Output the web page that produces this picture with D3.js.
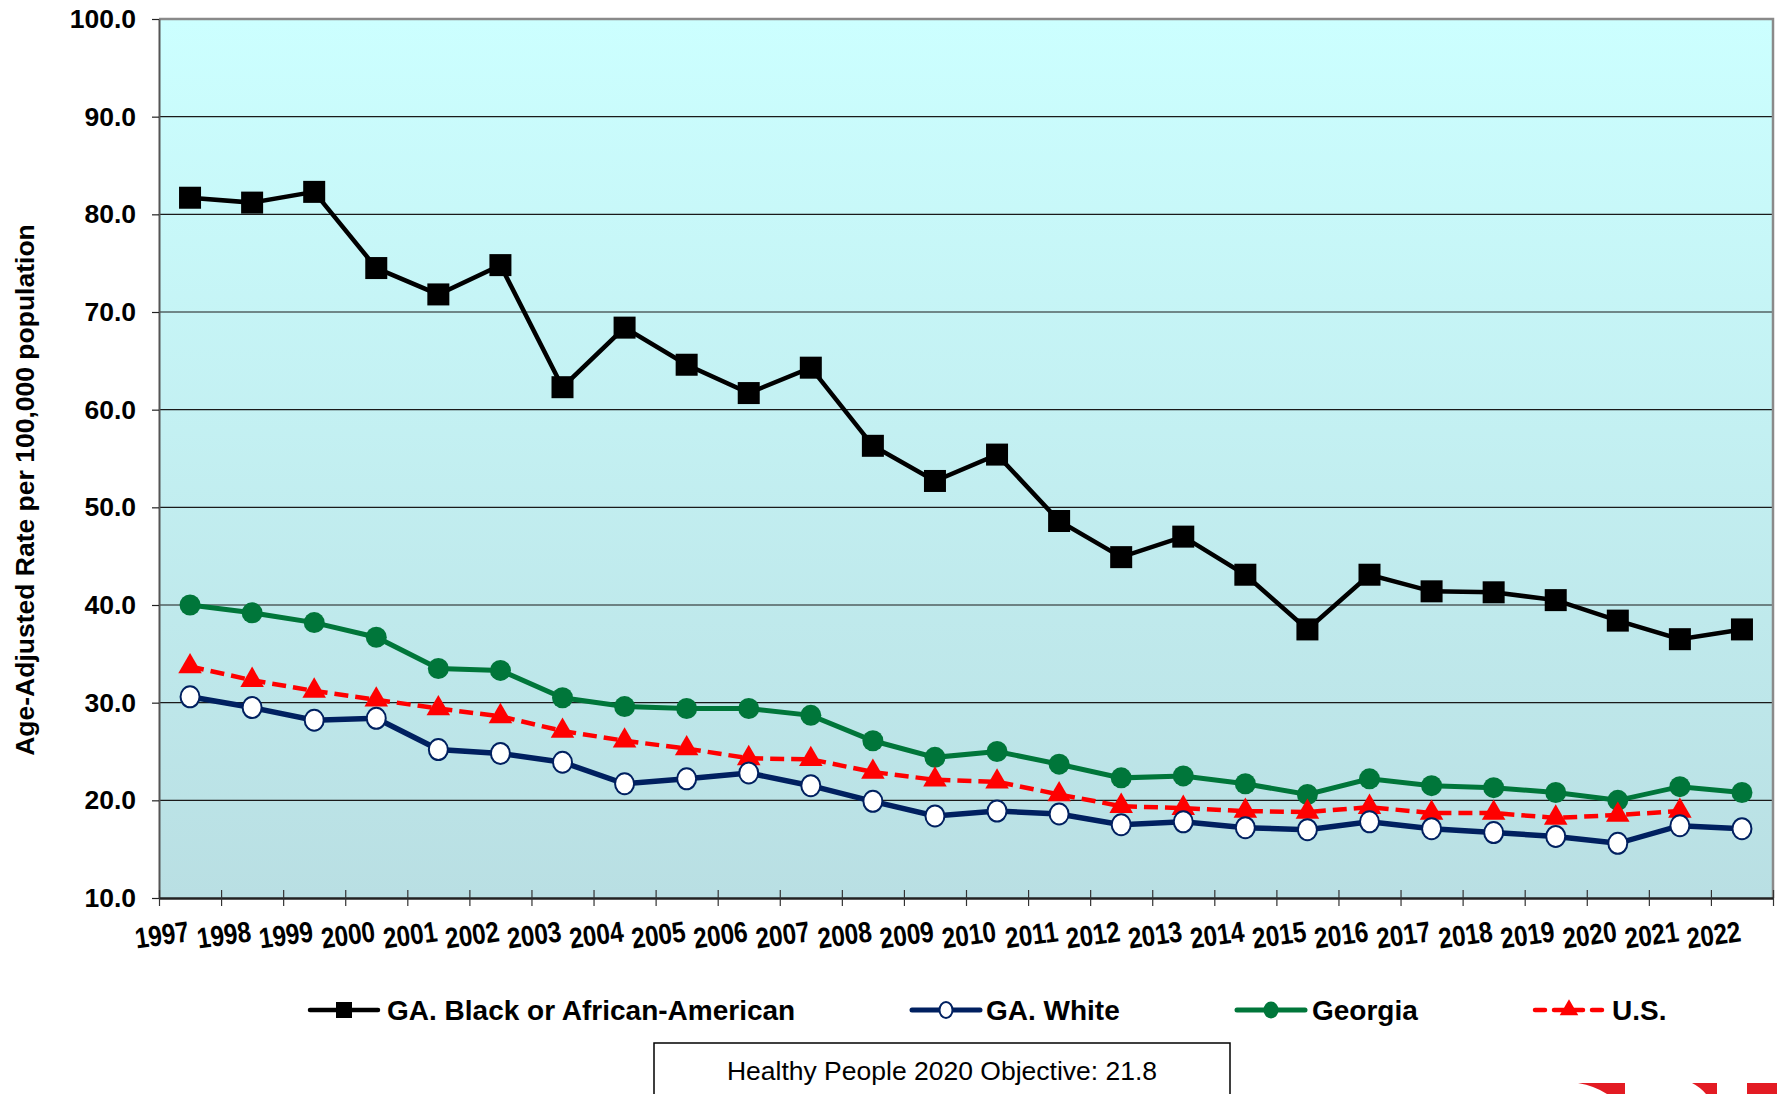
<!DOCTYPE html>
<html>
<head>
<meta charset="utf-8">
<script src="https://cdn.jsdelivr.net/npm/d3@7"></script>
<style>
  body { margin: 0; background: #fff; }
  svg { display: block; font-family: "Liberation Sans", Arial, sans-serif; }
</style>
</head>
<body>
<div class="chart"></div>
<script>
// values
const years = ["1997","1998","1999","2000","2001","2002","2003","2004","2005","2006","2007","2008","2009",
  "2010","2011","2012","2013","2014","2015","2016","2017","2018","2019","2020","2021","2022"];
const black = [81.7,81.2,82.3,74.5,71.8,74.8,62.3,68.4,64.6,61.7,64.3,56.3,52.7,
  55.4,48.6,44.9,47.0,43.1,37.5,43.1,41.4,41.3,40.5,38.4,36.5,37.5];
const white = [30.6,29.5,28.2,28.4,25.2,24.8,23.9,21.7,22.2,22.8,21.5,19.9,18.4,
  18.9,18.6,17.5,17.8,17.2,17.0,17.8,17.1,16.7,16.3,15.6,17.4,17.1];
const georgia = [40.0,39.2,38.2,36.7,33.5,33.3,30.5,29.6,29.4,29.4,28.7,26.1,24.4,
  25.0,23.7,22.3,22.5,21.7,20.6,22.2,21.5,21.3,20.8,20.0,21.4,20.8];
const us = [33.7,32.3,31.2,30.3,29.4,28.6,27.1,26.1,25.3,24.3,24.2,22.9,22.1,
  21.9,20.6,19.4,19.2,18.9,18.8,19.3,18.7,18.7,18.2,18.5,18.9];
const yTicks = [10,20,30,40,50,60,70,80,90,100];
const legendNames = ["GA. Black or African-American", "GA. White", "Georgia", "U.S."];

const W = 1777, H = 1094;
const plot = { left: 159, right: 1773, top: 19, bottom: 898 };

const svg = d3.select(".chart").append("svg")
  .attr("width", W).attr("height", H);

const defs = svg.append("defs");
const grad = defs.append("linearGradient").attr("id", "bg")
  .attr("x1", 0).attr("y1", 0).attr("x2", 0).attr("y2", 1);
grad.append("stop").attr("offset", "0%").attr("stop-color", "#CCFFFF");
grad.append("stop").attr("offset", "100%").attr("stop-color", "#B9DFE3");

let xScale = d3.scaleBand().domain(years).range([plot.left, plot.right]);
let yScale = d3.scaleLinear().domain([10, 100]).range([plot.bottom, plot.top]);
const cx = (i) => xScale(years[i]) + xScale.bandwidth() / 2;

// background
svg.append("rect")
  .attr("x", plot.left).attr("y", plot.top)
  .attr("width", plot.right - plot.left).attr("height", plot.bottom - plot.top)
  .attr("fill", "url(#bg)");

// gridlines
svg.append("g").selectAll("line")
  .data(yTicks.filter((d) => d > 10 && d < 100))
  .join("line")
  .attr("x1", plot.left).attr("x2", plot.right)
  .attr("y1", (d) => yScale(d)).attr("y2", (d) => yScale(d))
  .attr("stroke", "#1a1a1a").attr("stroke-width", 1.2);

// frame top and right
svg.append("path")
  .attr("d", `M${plot.left},${plot.top}H${plot.right}V${plot.bottom}`)
  .attr("fill", "none").attr("stroke", "#8a8a8a").attr("stroke-width", 2.5);

// y axis
const yAxis = d3.axisLeft(yScale).tickValues(yTicks).tickFormat(d3.format(".1f"))
  .tickSizeInner(7).tickSizeOuter(0).tickPadding(16);
const gy = svg.append("g").attr("class", "y-axis")
  .attr("transform", `translate(${plot.left},0)`).call(yAxis);
gy.select(".domain").attr("stroke", "#555").attr("stroke-width", 2);
gy.selectAll(".tick line").attr("stroke", "#222").attr("stroke-width", 1.2);
gy.selectAll(".tick text")
  .attr("font-size", 26.5).attr("font-weight", "bold").attr("fill", "#000")
  .attr("font-family", "'Liberation Sans', Arial, sans-serif");

// x axis: ticks at band boundaries
const edge = d3.scaleLinear().domain([0, years.length]).range([plot.left, plot.right]);
const xAxis = d3.axisBottom(edge).tickValues(d3.range(years.length + 1))
  .tickFormat("").tickSizeInner(8).tickSizeOuter(0);
const gx = svg.append("g").attr("class", "x-axis")
  .attr("transform", `translate(0,${plot.bottom})`).call(xAxis);
gx.select(".domain").attr("stroke", "#222").attr("stroke-width", 2.5);
gx.selectAll(".tick line").attr("y1", -8).attr("stroke", "#333").attr("stroke-width", 1.2);

// year labels, slightly slanted and condensed
svg.append("g").selectAll("text")
  .data(years)
  .join("text")
  .attr("transform", (d, i) => `translate(${cx(i)},${plot.bottom + 43}) rotate(-8) scale(0.84,1)`)
  .attr("text-anchor", "end")
  .attr("font-size", 29).attr("font-weight", "bold")
  .text((d) => d);

// y axis title
svg.append("text")
  .attr("transform", `translate(34,490) rotate(-90)`)
  .attr("text-anchor", "middle")
  .attr("font-size", 26.5).attr("font-weight", "bold")
  .text("Age-Adjusted Rate per 100,000 population");

// lines
const line = d3.line().x((d, i) => cx(i)).y((d) => yScale(d));

svg.append("path").datum(black).attr("d", line)
  .attr("fill", "none").attr("stroke", "#000").attr("stroke-width", 4.5);
svg.append("path").datum(georgia).attr("d", line)
  .attr("fill", "none").attr("stroke", "#00763A").attr("stroke-width", 5);
svg.append("path").datum(us).attr("d", line)
  .attr("fill", "none").attr("stroke", "#FF0000").attr("stroke-width", 4.5)
  .attr("stroke-dasharray", "14,7");
svg.append("path").datum(white).attr("d", line)
  .attr("fill", "none").attr("stroke", "#002060").attr("stroke-width", 5.5);

// markers
const sq = 22;
svg.append("g").selectAll("rect").data(black).join("rect")
  .attr("x", (d, i) => cx(i) - sq / 2).attr("y", (d) => yScale(d) - sq / 2)
  .attr("width", sq).attr("height", sq).attr("fill", "#000");

svg.append("g").selectAll("circle").data(georgia).join("circle")
  .attr("cx", (d, i) => cx(i)).attr("cy", (d) => yScale(d))
  .attr("r", 10.5).attr("fill", "#00763A");

const tri = d3.symbol().type(d3.symbolTriangle).size(240);
svg.append("g").selectAll("path").data(us).join("path")
  .attr("d", tri)
  .attr("transform", (d, i) => `translate(${cx(i)},${yScale(d)})`)
  .attr("fill", "#FF0000");

svg.append("g").selectAll("ellipse").data(white).join("ellipse")
  .attr("cx", (d, i) => cx(i)).attr("cy", (d) => yScale(d))
  .attr("rx", 9.5).attr("ry", 10.5)
  .attr("fill", "#fff").attr("stroke", "#002060").attr("stroke-width", 2);

// legend
const legY = 1010;
const legend = [
  { x: 308, tx: 387, color: "#000", w: 4.5, dash: null, mark: "square" },
  { x: 910, tx: 986, color: "#002060", w: 5, dash: null, mark: "open" },
  { x: 1235, tx: 1312, color: "#00763A", w: 5, dash: null, mark: "dot" },
  { x: 1533, tx: 1612, color: "#FF0000", w: 4.5, dash: "10,9", mark: "tri" }
];
const lg = svg.append("g").selectAll("g").data(legend).join("g");
lg.append("line")
  .attr("x1", (d) => d.x + 2).attr("x2", (d) => d.x + 70)
  .attr("y1", legY).attr("y2", legY)
  .attr("stroke", (d) => d.color).attr("stroke-width", (d) => d.w)
  .attr("stroke-linecap", "round")
  .attr("stroke-dasharray", (d) => d.dash);
lg.each(function (d) {
  const g = d3.select(this), mx = d.x + 36;
  if (d.mark === "square") {
    g.append("rect").attr("x", mx - 8).attr("y", legY - 8).attr("width", 16).attr("height", 16).attr("fill", "#000");
  } else if (d.mark === "open") {
    g.append("ellipse").attr("cx", mx).attr("cy", legY).attr("rx", 6.5).attr("ry", 8)
      .attr("fill", "#fff").attr("stroke", d.color).attr("stroke-width", 2);
  } else if (d.mark === "dot") {
    g.append("ellipse").attr("cx", mx).attr("cy", legY).attr("rx", 7.5).attr("ry", 8.5).attr("fill", d.color);
  } else {
    g.append("path").attr("d", d3.symbol().type(d3.symbolTriangle).size(150))
      .attr("transform", `translate(${mx},${legY})`).attr("fill", d.color);
  }
});
lg.append("text")
  .attr("x", (d) => d.tx).attr("y", legY + 10)
  .attr("font-size", 28).attr("font-weight", "bold")
  .text((d, i) => legendNames[i]);

// objective box
svg.append("rect")
  .attr("x", 654).attr("y", 1043).attr("width", 576).attr("height", 60)
  .attr("fill", "#fff").attr("stroke", "#000").attr("stroke-width", 1.5);
svg.append("text")
  .attr("x", 942).attr("y", 1080)
  .attr("text-anchor", "middle").attr("font-size", 26.5)
  .text("Healthy People 2020 Objective: 21.8");

// cut-off logo at the bottom right
const logo = svg.append("g").attr("fill", "#E31B23");
logo.append("path").attr("d", "M1578,1083 L1625,1083 L1625,1094 L1607,1094 Q1595,1086 1578,1083 Z");
logo.append("path").attr("d", "M1692,1083 L1717,1083 L1717,1094 L1706,1094 Q1700,1087 1692,1083 Z");
logo.append("rect").attr("x", 1747).attr("y", 1083).attr("width", 30).attr("height", 11);
</script>
</body>
</html>
